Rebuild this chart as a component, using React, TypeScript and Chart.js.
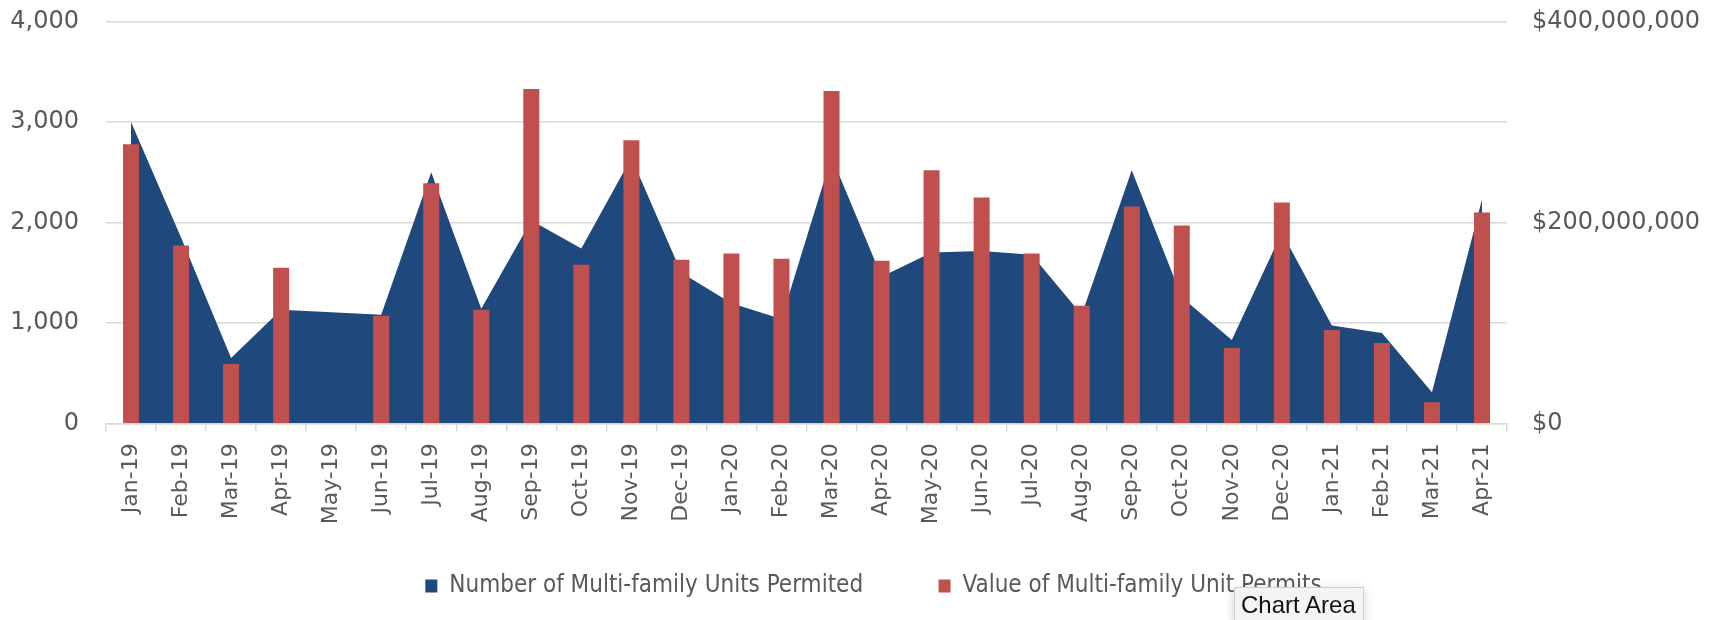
import React, { useEffect, useRef } from "react";
import { Chart, registerables } from "chart.js";

Chart.register(...registerables);

const months = [
  "Jan-19", "Feb-19", "Mar-19", "Apr-19", "May-19", "Jun-19", "Jul-19", "Aug-19",
  "Sep-19", "Oct-19", "Nov-19", "Dec-19", "Jan-20", "Feb-20", "Mar-20", "Apr-20",
  "May-20", "Jun-20", "Jul-20", "Aug-20", "Sep-20", "Oct-20", "Nov-20", "Dec-20",
  "Jan-21", "Feb-21", "Mar-21", "Apr-21",
];

const unitsPermitted = [
  3000, 1850, 650, 1130, 1105, 1080, 2500, 1140,
  2020, 1740, 2645, 1500, 1195, 1040, 2655, 1460,
  1700, 1715, 1680, 1080, 2520, 1255, 830, 1900,
  975, 900, 310, 2230,
];

const permitValues = [
  278000000, 177000000, 59000000, 155000000, null, 107000000, 239000000, 113000000,
  333000000, 158000000, 282000000, 163000000, 169000000, 164000000, 331000000, 162000000,
  252000000, 225000000, 169000000, 117000000, 216000000, 197000000, 75000000, 220000000,
  93000000, 80000000, 21000000, 210000000,
];

const unitsLabel = "Number of Multi-family Units Permited";
const valueLabel = "Value of Multi-family Unit Permits";

const unitsAxisMax = 4000;
const unitsAxisStep = 1000;
const valueAxisMax = 400000000;
const valueAxisStep = 200000000;

const AXIS_FONT = '"DejaVu Sans", sans-serif';
const LEGEND_FONT = '"Liberation Sans Narrow", "DejaVu Sans Condensed", Roboto, sans-serif';
const TEXT_COLOR = "#595959";
const GRID_COLOR = "#D9D9D9";

function fitScale(width?: number, height?: number) {
  return (scale: any) => {
    if (width !== undefined) scale.width = width;
    if (height !== undefined) scale.height = height;
    scale.paddingTop = 0;
    scale.paddingBottom = 0;
    scale.paddingLeft = 0;
    scale.paddingRight = 0;
  };
}

export default function App() {
  const canvasRef = useRef<HTMLCanvasElement | null>(null);

  useEffect(() => {
    document.body.style.margin = "0";
    const canvas = canvasRef.current;
    if (!canvas) return;
    const chart = new Chart(canvas, {
      type: "bar",
      data: {
        labels: months,
        datasets: [
          {
            type: "line",
            label: unitsLabel,
            data: unitsPermitted,
            yAxisID: "y",
            backgroundColor: "#1F497D",
            borderColor: "#1F497D",
            borderWidth: 0,
            fill: "origin",
            pointRadius: 0,
            pointHoverRadius: 0,
            tension: 0,
            order: 2,
          } as any,
          {
            type: "bar",
            label: valueLabel,
            data: permitValues,
            yAxisID: "y1",
            backgroundColor: "#C0504D",
            borderWidth: 0,
            barPercentage: 0.32,
            categoryPercentage: 1,
            order: 1,
          } as any,
        ],
      },
      options: {
        animation: false,
        responsive: false,
        devicePixelRatio: 1,
        events: [],
        layout: { padding: { top: 21.7, left: 0, right: -32, bottom: 12 } },
        plugins: {
          tooltip: { enabled: false },
          legend: {
            display: true,
            position: "bottom",
            labels: {
              font: { family: LEGEND_FONT, size: 24 },
              color: TEXT_COLOR,
              boxWidth: 12,
              boxHeight: 13,
              padding: 48,
              sort: (a: any, b: any) => a.datasetIndex - b.datasetIndex,
              generateLabels: (ch: any) => {
                const items = Chart.defaults.plugins.legend.labels.generateLabels(ch);
                return items.map((it: any) =>
                  it.datasetIndex === 0 ? { ...it, text: it.text + "    " } : it
                );
              },
            },
          },
        },
        scales: {
          x: {
            type: "category",
            offset: true,
            afterFit: fitScale(undefined, 102.7),
            grid: {
              display: true,
              drawOnChartArea: false,
              drawTicks: true,
              tickLength: 8,
              color: GRID_COLOR,
              lineWidth: 1.5,
              offset: true,
            },
            border: { display: true, color: GRID_COLOR, width: 1.5 },
            ticks: {
              autoSkip: false,
              minRotation: 90,
              maxRotation: 90,
              padding: 12,
              color: TEXT_COLOR,
              font: { family: AXIS_FONT, size: 22 },
            },
          },
          y: {
            type: "linear",
            position: "left",
            min: 0,
            max: unitsAxisMax,
            afterFit: fitScale(106, undefined),
            grid: { color: GRID_COLOR, lineWidth: 1.5, drawTicks: false },
            border: { display: false },
            ticks: {
              stepSize: unitsAxisStep,
              padding: 27,
              color: TEXT_COLOR,
              font: { family: AXIS_FONT, size: 24 },
              callback: (v: any) => Number(v).toLocaleString("en-US"),
            },
          },
          y1: {
            type: "linear",
            position: "right",
            min: 0,
            max: valueAxisMax,
            afterFit: fitScale(240, undefined),
            grid: { display: false, drawOnChartArea: false, drawTicks: false },
            border: { display: false },
            ticks: {
              stepSize: valueAxisStep,
              padding: 25,
              color: TEXT_COLOR,
              font: { family: AXIS_FONT, size: 24 },
              callback: (v: any) => "$" + Number(v).toLocaleString("en-US"),
            },
          },
        },
      } as any,
    });
    return () => chart.destroy();
  }, []);

  return (
    <div style={{ position: "fixed", left: 0, top: 0, width: 1715, height: 620, background: "#fff", overflow: "hidden" }}>
      <canvas ref={canvasRef} width={1715} height={620} style={{ display: "block", width: 1715, height: 620 }} />
      <div
        style={{
          position: "absolute",
          left: 1234,
          top: 587,
          width: 130,
          height: 40,
          background: "#F4F4F4",
          border: "1px solid #CFCFCF",
          boxShadow: "0 3px 10px rgba(0,0,0,0.18)",
          fontFamily: '"Liberation Sans", Roboto, sans-serif',
          fontSize: 24,
          color: "#111",
          boxSizing: "border-box",
          padding: "4px 0 0 6px",
          lineHeight: "26px",
          whiteSpace: "nowrap",
        }}
      >
        Chart Area
      </div>
    </div>
  );
}
